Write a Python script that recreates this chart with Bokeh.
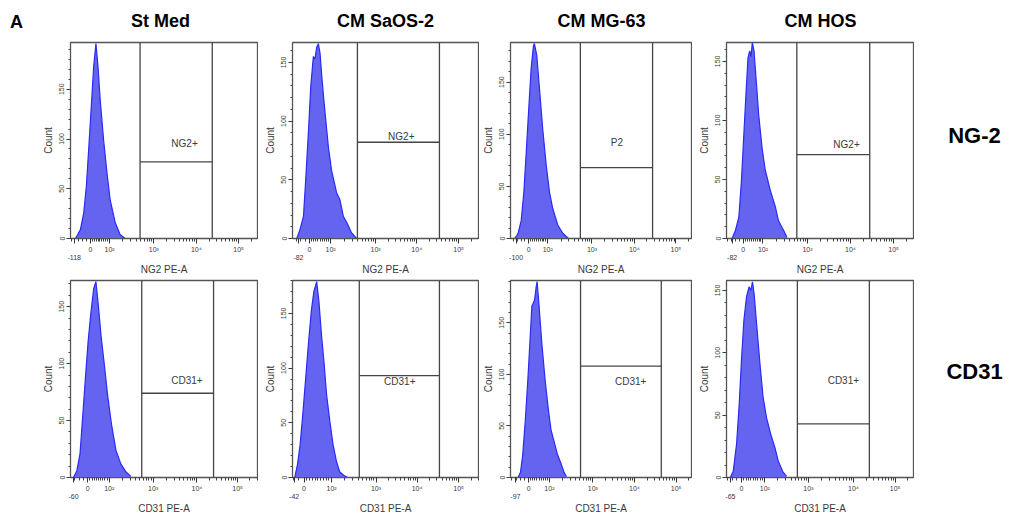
import numpy as np
from bokeh.plotting import figure
from bokeh.layouts import column, row
from bokeh.models import Range1d, FixedTicker, Span
from bokeh.core.properties import value
from bokeh.embed import file_html
from bokeh.resources import INLINE

FONT = "Liberation Sans"

# ---------------- data ----------------
panel_letter = "A"
conditions = ["St Med", "CM SaOS-2", "CM MG-63", "CM HOS"]
markers = ["NG-2", "CD31"]
x_axis_labels = ["NG2 PE-A", "CD31 PE-A"]
gate_names = ["NG2+", "NG2+", "P2", "NG2+", "CD31+", "CD31+", "CD31+", "CD31+"]

# histogram outlines on the display (channel) scale 0-1000, counts
hist_ch_1 = [27, 53, 71, 85, 97, 110, 124, 136, 147, 159, 177, 195, 212, 239, 265, 292]
hist_ct_1 = [0, 9, 26, 53, 89, 129, 173, 196, 173, 139, 99, 66, 39, 16, 4, 0]
hist_ch_2 = [23, 41, 59, 71, 86, 98, 112, 121, 130, 139, 148, 159, 175, 193, 210, 237, 255, 273, 294, 317, 344]
hist_ct_2 = [0, 8, 19, 50, 92, 129, 155, 153, 163, 166, 158, 135, 107, 78, 58, 39, 33, 19, 13, 5, 0]
hist_ch_3 = [22, 40, 59, 74, 86, 101, 114, 127, 132, 145, 160, 178, 197, 215, 233, 261, 289, 320]
hist_ct_3 = [0, 4, 17, 45, 80, 125, 163, 185, 187, 176, 144, 105, 71, 45, 29, 13, 5, 0]
hist_ch_4 = [30, 48, 66, 80, 92, 105, 115, 124, 131, 138, 147, 158, 172, 190, 207, 234, 261, 278, 305, 323]
hist_ct_4 = [0, 7, 18, 49, 86, 125, 153, 159, 154, 166, 159, 136, 105, 77, 58, 41, 27, 15, 7, 1]
hist_ch_5 = [16, 34, 51, 65, 80, 94, 108, 124, 136, 149, 163, 181, 198, 219, 243, 269, 296, 322]
hist_ct_5 = [0, 6, 21, 53, 88, 119, 143, 166, 172, 151, 125, 99, 73, 47, 24, 12, 5, 1]
hist_ch_6 = [12, 27, 41, 55, 71, 85, 101, 115, 130, 142, 156, 169, 183, 201, 218, 236, 254, 275, 297]
hist_ct_6 = [0, 12, 30, 57, 91, 121, 152, 170, 179, 161, 130, 106, 76, 51, 30, 15, 5, 2, 0]
hist_ch_7 = [42, 55, 67, 82, 96, 109, 118, 133, 142, 147, 158, 173, 191, 209, 224, 242, 260, 278, 296, 309]
hist_ct_7 = [0, 5, 21, 56, 95, 137, 166, 172, 185, 190, 166, 130, 95, 66, 46, 34, 22, 14, 5, 1]
hist_ch_8 = [21, 36, 54, 68, 80, 93, 107, 121, 130, 139, 148, 161, 179, 196, 214, 236, 259, 277, 300, 321]
hist_ct_8 = [0, 5, 27, 59, 94, 126, 145, 153, 150, 157, 147, 123, 91, 64, 48, 35, 24, 13, 5, 1]

hist_ch = [hist_ch_1, hist_ch_2, hist_ch_3, hist_ch_4, hist_ch_5, hist_ch_6, hist_ch_7, hist_ch_8]
hist_ct = [hist_ct_1, hist_ct_2, hist_ct_3, hist_ct_4, hist_ct_5, hist_ct_6, hist_ct_7, hist_ct_8]

y_max = [197, 167, 188, 166, 173, 180, 191, 158]

# gates: low/high channel, horizontal line level, label position
gate_lo = [372, 349, 386, 376, 381, 359, 387, 379]
gate_hi = [758, 790, 785, 766, 765, 790, 833, 764]
gate_level = [77, 82, 68, 71, 74, 93, 108, 43]
gate_label_ch = [610, 585, 588, 642, 623, 577, 664, 625]
gate_label_ct = [95, 87, 92, 80, 85, 88, 93, 78]

# x axis (biexponential display): channel positions of 0, 10^2, 10^3, 10^4, 10^5
x_tick_labels = ["0", "10\u00b2", "10\u00b3", "10\u2074", "10\u2075"]
x_tick_ch = [
    [106, 209, 446, 673, 899],
    [91, 205, 447, 668, 893],
    [101, 206, 450, 684, 914],
    [89, 195, 433, 663, 894],
    [92, 207, 442, 676, 894],
    [62, 210, 449, 670, 893],
    [100, 215, 455, 685, 915],
    [80, 205, 438, 679, 902],
]
x_min_values = [-118, -82, -100, -82, -60, -42, -97, -65]
x_min_label_ch = [20, 32, 31, 30, 16, 9, 27, 21]

y_ticks = [0, 50, 100, 150]

# ---------------- style ----------------
FILL = "#6464f0"
EDGE = "#2a2af5"
FRAME = "#555555"
GATE = "#454545"
TXT = "#3a3a3a"

col_width = [258, 221, 213, 222]
col_border_left = [70, 34, 29, 34]
label_width = 95
header_h = 40
row_top = [2, 3]
row_bottom = [38, 38]
row_frame = [197, 198]


def x_minor_ticks(t, vmin):
    c0, c2, c3, c4, c5 = t
    lin = (c2 - c0) / 100.0
    ticks = []
    v = int(np.ceil(vmin / 20.0) * 20)
    while v < 100:
        if v != 0:
            ticks.append(c0 + v * lin)
        v += 10 if v >= 0 else 20
    for a, b in [(c2, c3), (c3, c4), (c4, c5)]:
        for m in range(2, 10):
            ticks.append(a + np.log10(m) * (b - a))
    d = c5 - c4
    for m in (2, 3):
        pos = c5 + np.log10(m) * d
        if pos < 1000:
            ticks.append(pos)
    return [float(x) for x in ticks]


def make_panel(i, r, c):
    h = row_top[r] + row_frame[r] + row_bottom[r]
    p = figure(width=col_width[c], height=h,
               x_range=Range1d(0, 1000), y_range=Range1d(0, y_max[i]),
               output_backend="svg", toolbar_location=None)
    p.min_border_left = col_border_left[c]
    p.min_border_right = 1
    p.min_border_top = row_top[r]
    p.min_border_bottom = row_bottom[r]
    p.grid.visible = False
    p.background_fill_color = "white"
    p.border_fill_color = "white"
    p.outline_line_color = FRAME
    p.outline_line_width = 1.3

    p.varea(x=hist_ch[i], y1=0, y2=hist_ct[i], fill_color=FILL, fill_alpha=1.0)
    p.line(x=hist_ch[i], y=hist_ct[i], line_color=EDGE, line_width=1.2)

    for g in (gate_lo[i], gate_hi[i]):
        p.add_layout(Span(location=g, dimension="height", line_color=GATE, line_width=1.3))
    p.segment(x0=[gate_lo[i]], x1=[gate_hi[i]], y0=[gate_level[i]], y1=[gate_level[i]],
              line_color=GATE, line_width=1.3)
    p.text(x=[gate_label_ch[i]], y=[gate_label_ct[i]], text=[gate_names[i]],
           text_font=value(FONT), text_font_size="10px", text_color=TXT,
           text_align="center", text_baseline="middle")

    # x axis
    xa = p.xaxis[0]
    ticks = [x_min_label_ch[i]] + x_tick_ch[i]
    labels = ["\n" + str(x_min_values[i])] + x_tick_labels
    xa.ticker = FixedTicker(ticks=ticks, minor_ticks=x_minor_ticks(x_tick_ch[i], x_min_values[i]))
    xa.major_label_overrides = {t: lab for t, lab in zip(ticks, labels)}
    xa.axis_label = x_axis_labels[r]
    xa.axis_label_text_font = FONT
    xa.axis_label_text_font_size = "10px"
    xa.axis_label_text_font_style = "normal"
    xa.axis_label_text_color = TXT
    xa.axis_label_standoff = 0
    xa.major_label_text_font = FONT
    xa.major_label_text_font_size = "7px"
    xa.major_label_text_color = TXT
    xa.major_label_standoff = 2
    xa.major_tick_out = 5
    xa.major_tick_in = 0
    xa.minor_tick_out = 3
    xa.minor_tick_in = 0
    xa.axis_line_color = FRAME
    xa.major_tick_line_color = "#333333"
    xa.minor_tick_line_color = "#444444"

    # y axis
    ya = p.yaxis[0]
    ya.ticker = FixedTicker(ticks=y_ticks, minor_ticks=list(range(0, y_max[i] + 1, 10)))
    ya.axis_label = "Count"
    ya.axis_label_text_font = FONT
    ya.axis_label_text_font_size = "10px"
    ya.axis_label_text_font_style = "normal"
    ya.axis_label_text_color = TXT
    ya.axis_label_standoff = 3
    ya.major_label_orientation = "vertical"
    ya.major_label_text_font = FONT
    ya.major_label_text_font_size = "7px"
    ya.major_label_text_color = TXT
    ya.major_label_standoff = 2
    ya.major_tick_out = 4
    ya.major_tick_in = 0
    ya.minor_tick_out = 2
    ya.minor_tick_in = 0
    ya.axis_line_color = FRAME
    ya.major_tick_line_color = "#333333"
    ya.minor_tick_line_color = "#444444"
    return p


def blank(width, height):
    p = figure(width=width, height=height, x_range=Range1d(0, width), y_range=Range1d(0, height),
               output_backend="svg", toolbar_location=None, min_border=0,
               x_axis_location=None, y_axis_location=None)
    p.grid.visible = False
    p.outline_line_color = None
    p.background_fill_color = "white"
    p.border_fill_color = "white"
    return p


# header with column titles
total_w = sum(col_width) + label_width
header = blank(total_w, header_h)
header.text(x=[16], y=[header_h - 21], text=[panel_letter], text_font=value(FONT),
            text_font_size="18px", text_font_style="bold", text_color="black",
            text_align="center", text_baseline="middle")
title_x = [160, 385, 601, 820]
header.text(x=title_x, y=[header_h - 20] * 4, text=conditions, text_font=value(FONT),
            text_font_size="18px", text_font_style="bold", text_color="black",
            text_align="center", text_baseline="middle")

rows = []
label_y_from_top = [112, 111]
for r in range(2):
    figs = [make_panel(r * 4 + c, r, c) for c in range(4)]
    h = row_top[r] + row_frame[r] + row_bottom[r]
    lab = blank(label_width, h)
    lab.text(x=[60], y=[h - label_y_from_top[r]], text=[markers[r]], text_font=value(FONT),
             text_font_size="22px", text_font_style="bold", text_color="black",
             text_align="center", text_baseline="middle")
    rows.append(row(*figs, lab))

layout = column(header, *rows)
open("out.html", "w").write(file_html(layout, INLINE))
